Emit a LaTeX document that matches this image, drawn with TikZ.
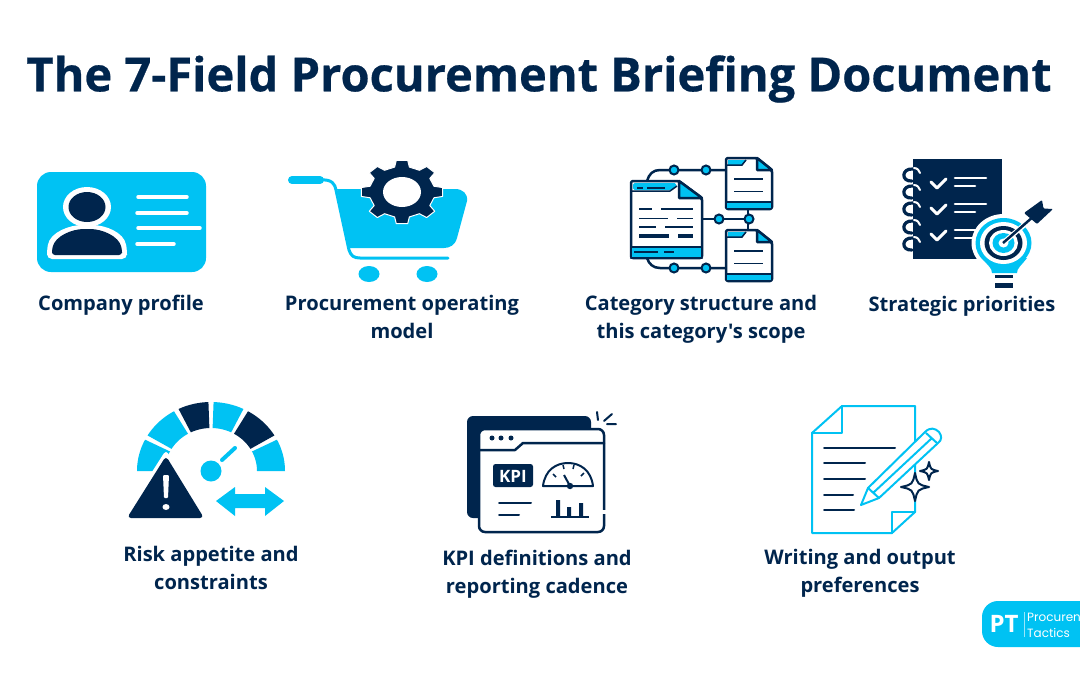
\documentclass[tikz,border=0pt]{standalone}
\usepackage{fontspec}
\newfontfamily\osans{Open Sans}
\newfontfamily\ostitle{Open Sans}[BoldFeatures={FakeBold=0.5}]
\newfontfamily\popp{Poppins}
\definecolor{navy}{HTML}{00254D}
\definecolor{sky}{HTML}{00C2F3}
\tikzset{
 x=1pt,y=-1pt,
 lbl/.style={text=navy,align=center,font=\osans\bfseries\fontsize{20.1}{28}\selectfont,inner sep=0pt},
 nl/.style={draw=navy,line width=2.5pt,line cap=round,line join=round},
 bl/.style={draw=sky,line width=2pt,line join=round,line cap=round},
 dot/.style={fill=sky,draw=navy,line width=2pt},
}
\newcommand{\fourstar}[3]{% cx cy r
 \draw[navy,line width=2pt,line join=round,fill=white] (#1,#2-#3) .. controls (#1+#3*.18,#2-#3*.18) .. (#1+#3,#2) .. controls (#1+#3*.18,#2+#3*.18) .. (#1,#2+#3) .. controls (#1-#3*.18,#2+#3*.18) .. (#1-#3,#2) .. controls (#1-#3*.18,#2-#3*.18) .. cycle;}
\begin{document}
\begin{tikzpicture}
\useasboundingbox (0,0) rectangle (1080,675);
\clip (0,0) rectangle (1080,675);
\fill[white] (0,0) rectangle (1080,675);
% title
\node[text=navy,font=\ostitle\bfseries\fontsize{47}{56}\selectfont,inner sep=0pt] (title) at (539,79) {The 7-Field Procurement Briefing Document};
% labels
\node[lbl] (l1) at (121,305) {Company profile};
\node[lbl] (l2) at (402,317) {Procurement operating\\model};
\node[lbl] (l3) at (701,319) {Category structure and\\this category's scope};
\node[lbl] (l4) at (962,306) {Strategic priorities};
\node[lbl] (l5) at (211,568) {Risk appetite and\\constraints};
\node[lbl] (l6) at (537,574) {KPI definitions and\\reporting cadence};
\node[lbl] (l7) at (860,573) {Writing and output\\preferences};
% --- card
\fill[sky,rounded corners=14] (37,172) rectangle (206,272);
\fill[white] (87,207) ellipse [x radius=24,y radius=20];
\fill[navy] (87,207) ellipse [x radius=18.5,y radius=15];
\fill[white,rounded corners=5] (47,259) -- (47,250) .. controls (50,232) and (70,225) .. (87,225) .. controls (105,225) and (124,232) .. (127,250) -- (127,259) -- cycle;
\fill[navy,rounded corners=3] (52,255) -- (52,250) .. controls (55,236) and (72,229) .. (87,229) .. controls (102,229) and (119,236) .. (122,250) -- (122,255) -- cycle;
\begin{scope}[white,line width=3.5pt,line cap=round]
\draw (138,197) -- (187,197);
\draw (137,213) -- (187,213);
\draw (138,228) -- (200,228);
\draw (137,244) -- (174,244);
\end{scope}
% --- cart
\draw[sky,line width=8pt,line cap=round] (292,180) -- (320,180);
\draw[sky,line width=3pt,line cap=round] (320,180) .. controls (332,179) and (335,184) .. (336,190) -- (349,250) .. controls (351,256) and (354,258) .. (360,258) -- (448,258);
\fill[sky] (337,189) -- (455,189) .. controls (463,189) and (468,194) .. (467,201) -- (457,238) .. controls (455,245) and (450,248) .. (444,248) -- (349,248) -- cycle;
\fill[sky] (369,274) ellipse [x radius=10.5,y radius=8];
\fill[sky] (427,274) ellipse [x radius=10.5,y radius=8];
\path[fill=navy,draw=white,line width=1pt,line join=round] ({402+41*.8*cos(-13)},{192+32*.8*sin(-13)})
 \foreach \a in {0,45,...,315}{
 -- ({402+41*.8*cos(\a-13)},{192+32*.8*sin(\a-13)})
 -- ({402+41*cos(\a-8)},{192+32*sin(\a-8)})
 -- ({402+41*cos(\a+8)},{192+32*sin(\a+8)})
 -- ({402+41*.8*cos(\a+13)},{192+32*.8*sin(\a+13)})
 } -- cycle;
\fill[white] (402,192) ellipse [x radius=19,y radius=15];
% --- documents
\draw[nl] (647,181) .. controls (649,174) and (653,170) .. (660,170) -- (726,170);
\draw[nl] (647,258) .. controls (649,264) and (653,268) .. (660,268) -- (726,268);
\draw[nl] (702,219) -- (748,219);
\draw[nl] (748,209) -- (748,230);
\foreach \p in {(674,170),(706,170),(719,219),(749,219),(674,268),(706,268)} \filldraw[dot] \p circle [radius=4.5];
% big doc
\filldraw[fill=white,nl,rounded corners=2] (631,181) -- (679,181) -- (702,198) -- (702,258) -- (631,258) -- cycle;
\fill[sky,rounded corners=1.5] (633,183) -- (676,183) -- (676,187) -- (671,190) -- (633,190) -- cycle;
\draw[nl,line cap=butt,line width=1.5pt] (631,191) -- (670,191) -- (677,186);
\filldraw[fill=sky,nl] (679,181) -- (679,198) -- (702,198) -- cycle;
\fill[sky] (632,247) rectangle (701,257);
\draw[nl,line width=1.5pt] (631,247) -- (702,247);
\draw[nl] (631,258) -- (702,258);
\draw[navy,line width=2pt] (634,252) -- (658,252) (664,252) -- (674,252) (637,188) -- (643,188) (647,188) -- (665,188);
\draw[navy,line width=2pt] (639,209) -- (652,209) (661,209) -- (693,209);
\draw[navy,line width=1pt] (639,218) -- (668,218) (677,218) -- (693,218);
\draw[navy,line width=2pt] (639,227) -- (656,227) (665,227) -- (693,227);
\draw[navy,line width=3.5pt] (639,236) -- (669,236) (678,236) -- (693,236);
% small docs
\foreach \dy in {0,72}{
 \begin{scope}[yshift=-\dy pt]
 \filldraw[fill=white,nl,rounded corners=2] (726,158) -- (757,158) -- (772,170) -- (772,209) -- (726,209) -- cycle;
 \fill[sky] (728,160) -- (746,160) -- (742,165) -- (728,165) -- cycle;
 \draw[navy,line width=1.5pt] (727,165) -- (742,165) -- (746,160);
 \filldraw[fill=sky,nl] (757,158) -- (757,170) -- (772,170) -- cycle;
 \fill[sky] (727,202) rectangle (771,208);
 \draw[nl,line width=1.5pt] (726,202) -- (772,202);
 \draw[navy,line width=1.5pt] (734,179) -- (763,179);
 \draw[navy,line width=1pt] (734,191) -- (763,191);
 \end{scope}
}
% --- strategic
\fill[navy] (913,159) rectangle (1002,259);
\foreach \y in {175,192,209,227,244}{
 \draw[navy,line width=3.2pt,line cap=round] (913,\y-6) .. controls (901,\y-7) and (901,\y+7) .. (912,\y+6);
 \draw[white,line width=2pt,line cap=round] (914,\y-7) .. controls (918,\y-7) and (919,\y-4) .. (920,\y-2);
}
\foreach \y in {0,26,52}{
 \begin{scope}[yshift=-\y pt]
 \draw[white,line width=3pt,line cap=round,line join=round] (931,182) -- (937,188) -- (946,179);
 \draw[white,line width=2.6pt,line cap=round] (955,178) -- (986,178) (955,186) -- (975,186);
 \end{scope}
}
\fill[white] (1003.5,243) ellipse [x radius=32,y radius=29];
\fill[white] (981,262) -- (988,276) -- (1019,276) -- (1026,262) -- cycle;
\fill[sky] (1003.5,243) ellipse [x radius=28,y radius=25];
\fill[sky] (982,258) .. controls (988,266) and (992,268) .. (992,273) -- (1017,273) .. controls (1017,268) and (1021,266) .. (1027,258) -- cycle;
\fill[white] (1003.5,243) ellipse [x radius=23.5,y radius=21];
\fill[navy] (1003.5,243) ellipse [x radius=19,y radius=17];
\fill[white] (1003.5,243) ellipse [x radius=14.5,y radius=13];
\fill[sky] (1003.5,243) ellipse [x radius=11,y radius=10];
\fill[white] (1003.5,243) ellipse [x radius=5,y radius=4.5];
\fill[navy] (995,274.5) rectangle (1013,278);
\fill[navy] (995,282.5) rectangle (1013,288);
\draw[white,line width=5pt] (1003,243) -- (1030,220);
\draw[navy,line width=2.5pt] (1003,243) -- (1034,216);
\fill[navy,rounded corners=1] (1024,213) -- (1042,200) -- (1043.5,208.5) -- (1053,209) -- (1037,224) -- cycle;
% --- gauge
\foreach \s/\e/\c in {153/180/sky,120/149/sky,92/116/navy,64/88/sky,31/60/navy,0/27/sky}{
 \fill[\c] plot[domain=\s:\e,samples=20] ({211+74*cos(\x)},{471-69*sin(\x)}) -- plot[domain=\e:\s,samples=20] ({211+46*cos(\x)},{471-43*sin(\x)}) -- cycle;
}
\fill[sky] (211,471) circle [radius=10.5];
\draw[sky,line width=4pt,line cap=round] (222,460) -- (235,448);
\fill[white,rounded corners=4] (166,450) -- (120,522) -- (211,522) -- cycle;
\fill[navy,rounded corners=4] (166,456) -- (127,518) -- (204,518) -- cycle;
\fill[white,rounded corners=1] (163,475) -- (169,475) -- (168,498) -- (164,498) -- cycle;
\fill[white] (166,507) ellipse [x radius=3.5,y radius=3];
\fill[sky] (216,501) -- (235,487) -- (235,494) -- (265,494) -- (265,487) -- (284,501) -- (265,516) -- (265,508) -- (235,508) -- (235,516) -- cycle;
% --- KPI
\fill[navy,rounded corners=6] (467,416) rectangle (591,518);
\filldraw[fill=white,nl,rounded corners=6] (479,429) rectangle (604,532);
\draw[nl] (479,450) -- (515,450) -- (523,443) -- (604,443);
\foreach \xx in {492,501,511} \fill[navy] (\xx,438) circle [radius=2.5];
\fill[navy,rounded corners=2.5] (493,464) rectangle (533,487);
\node[text=white,font=\osans\bfseries\fontsize{17}{17}\selectfont,inner sep=0pt] (kpi) at (513,476) {KPI};
\draw[navy,line width=2pt,line join=round] (543,486) .. controls (545,470) and (556,463) .. (568,463) .. controls (580,463) and (591,470) .. (593,486) -- cycle;
\draw[navy,line width=1.5pt] (553,474) -- (556,477) (563,465) -- (564,469) (574,465) -- (573,469) (584,473) -- (581,476);
\draw[navy,line width=2pt] (564,475) -- (570,486);
\fill[navy] (570,486) circle [radius=3.2];
\draw[navy,line width=2pt,line cap=round] (499,503) -- (531,503) (499,515) -- (519,515);
\draw[navy,line width=2pt] (551,517) -- (589,517);
\fill[navy] (556,500) rectangle (560,517) (567,507) rectangle (571,517) (579,503) rectangle (583,517);
\fill[white] (602,510) rectangle (606,514);
\draw[navy,line width=2pt,line cap=round] (597,412) -- (598,420) (612,414) -- (604,421) (607,424) -- (616,424);
% --- writing
\draw[bl] (842,406) -- (915,406) -- (915,512) -- (892,533) -- (812,533) -- (812,433) -- cycle;
\draw[bl] (812,433) -- (842,433) -- (842,406);
\draw[bl] (915,512) -- (892,512) -- (892,533);
\draw[navy,line width=2pt,line cap=round] (824,448) -- (895,448) (824,463) -- (865,463) (824,479) -- (865,479) (824,495) -- (853,495) (824,510) -- (854,510);
\filldraw[fill=white,bl] (861,505) -- (868,488) -- (925,432) .. controls (930,427) and (935,428) .. (939,432) .. controls (942,436) and (942,440) .. (938,443) -- (879,498) -- cycle;
\draw[bl] (868,488) -- (879,498) (926,433) -- (937,443) (873,493) -- (932,438);
\fourstar{915}{487}{14}
\fourstar{929}{471}{9}
% --- logo
\fill[sky,rounded corners=16] (982,601) rectangle (1110,647);
\node[text=white,font=\osans\bfseries\fontsize{24}{24}\selectfont,inner sep=0pt] (pt) at (1004,624) {PT};
\fill[white,opacity=.6] (1023.5,612) rectangle (1024.5,637);
\node[text=white,anchor=base west,font=\popp\fontsize{12}{12}\selectfont,inner sep=0pt] (pr) at (1027,621) {Procuren};
\node[text=white,anchor=base west,font=\popp\fontsize{12}{12}\selectfont,inner sep=0pt] (ta) at (1027,637) {Tactics};
\end{tikzpicture}
\end{document}
